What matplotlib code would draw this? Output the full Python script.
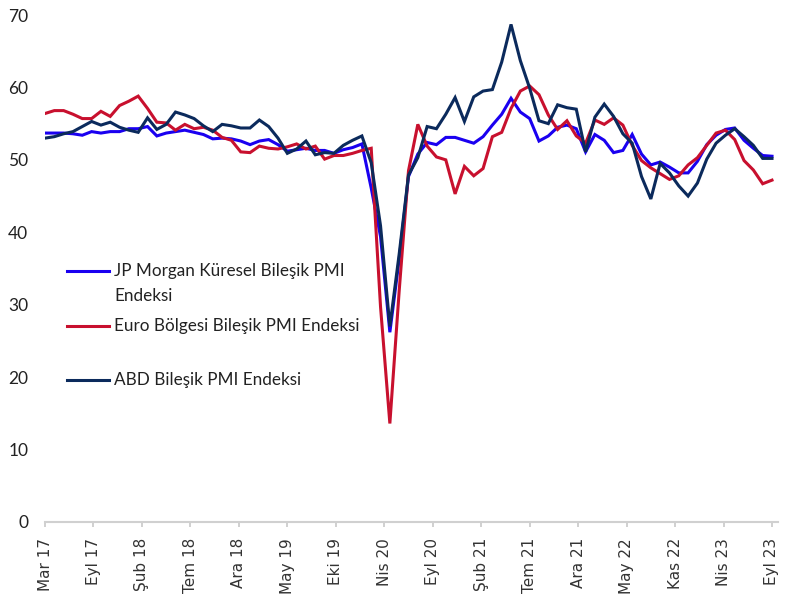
import matplotlib.pyplot as plt
import matplotlib as mpl
from matplotlib.lines import Line2D
import numpy as np

# aylik veri: Mar 17 - Eyl 23
jpm = [53.7, 53.7, 53.7, 53.6, 53.4, 53.9, 53.7, 53.9, 53.9, 54.3,
       54.3, 54.6, 53.3, 53.7, 53.9, 54.1, 53.8, 53.5, 52.9, 53.0,
       52.9, 52.6, 52.1, 52.6, 52.8, 52.1, 51.2, 51.4, 51.6, 51.3,
       51.3, 50.9, 51.4, 51.7, 52.2, 46.1, 39.4, 26.2, 36.3, 47.7,
       50.8, 52.4, 52.1, 53.1, 53.1, 52.7, 52.3, 53.2, 54.8, 56.3,
       58.5, 56.6, 55.7, 52.6, 53.3, 54.5, 54.8, 54.3, 51.1, 53.5,
       52.7, 51.0, 51.3, 53.5, 50.8, 49.3, 49.7, 49.0, 48.2, 48.2,
       49.8, 52.1, 53.4, 54.2, 54.4, 52.7, 51.6, 50.6, 50.5]

euro = [56.4, 56.8, 56.8, 56.3, 55.7, 55.7, 56.7, 56.0, 57.5, 58.1,
        58.8, 57.1, 55.2, 55.1, 54.1, 54.9, 54.3, 54.5, 54.1, 53.1,
        52.7, 51.1, 51.0, 51.9, 51.6, 51.5, 51.8, 52.2, 51.5, 51.9,
        50.1, 50.6, 50.6, 50.9, 51.3, 51.6, 29.7, 13.6, 31.9, 48.5,
        54.9, 51.9, 50.4, 50.0, 45.3, 49.1, 47.8, 48.8, 53.2, 53.8,
        57.1, 59.5, 60.2, 59.0, 56.2, 54.2, 55.4, 53.3, 52.3, 55.5,
        54.9, 55.8, 54.8, 52.0, 49.9, 48.9, 48.1, 47.3, 47.8, 49.3,
        50.3, 52.0, 53.7, 54.1, 52.8, 49.9, 48.6, 46.7, 47.2]

abd = [53.0, 53.2, 53.6, 53.9, 54.6, 55.3, 54.8, 55.2, 54.5, 54.1,
       53.8, 55.8, 54.2, 54.9, 56.6, 56.2, 55.7, 54.7, 53.9, 54.9,
       54.7, 54.4, 54.4, 55.5, 54.6, 53.0, 50.9, 51.5, 52.6, 50.7,
       51.0, 50.9, 52.0, 52.7, 53.3, 49.6, 40.9, 27.0, 37.0, 47.9,
       50.3, 54.6, 54.3, 56.3, 58.6, 55.3, 58.7, 59.5, 59.7, 63.5,
       68.7, 63.7, 59.9, 55.4, 55.0, 57.6, 57.2, 57.0, 51.1, 55.9,
       57.7, 56.0, 53.6, 52.3, 47.7, 44.6, 49.5, 48.2, 46.4, 45.0,
       46.8, 50.1, 52.3, 53.4, 54.3, 53.2, 52.0, 50.2, 50.2]

tick_labels = ['Mar 17', 'Eyl 17', 'Şub 18', 'Tem 18', 'Ara 18', 'May 19',
               'Eki 19', 'Nis 20', 'Eyl 20', 'Şub 21', 'Tem 21', 'Ara 21',
               'May 22', 'Kas 22', 'Nis 23', 'Eyl 23']

names = ['JP Morgan Küresel Bileşik PMI\nEndeksi',
         'Euro Bölgesi Bileşik PMI Endeksi',
         'ABD Bileşik PMI Endeksi']
colors = ['#1A00F0', '#C8102E', '#0B2A5C']

W, H = 801, 612
mpl.rcParams['font.family'] = ['Lato', 'DejaVu Sans']

fig = plt.figure(figsize=(W / 100, H / 100), dpi=100)
ax = fig.add_axes([45 / W, 1 - 522 / H, 733 / W, 507 / H])

t = np.arange(len(jpm))
ax.plot(t, jpm, color=colors[0], lw=2.2, solid_joinstyle='miter')
ax.plot(t, euro, color=colors[1], lw=2.2, solid_joinstyle='miter')
ax.plot(t, abd, color=colors[2], lw=2.2, solid_joinstyle='miter')

ax.set_xlim(0, 78 * 733 / 727)
ax.set_ylim(0, 70)

ax.set_xticks(np.linspace(0, len(jpm) - 1, len(tick_labels)))
ax.set_xticklabels(tick_labels, rotation=90, family='DejaVu Sans',
                   fontsize=11, color='#333333')
ax.set_yticks(np.arange(0, 71, 10))
ax.tick_params(axis='y', length=0, pad=12, labelsize=12.5, labelcolor='#222222')
ax.tick_params(axis='x', length=3.5, width=1.2, color='#C8C8C8', pad=8)

for s in ['top', 'right', 'left']:
    ax.spines[s].set_visible(False)
ax.spines['bottom'].set_color('#D0D0D0')
ax.spines['bottom'].set_linewidth(1.5)

# lejant elle
rows = [271, 326, 380]
for name, c, y in zip(names, colors, rows):
    fy = 1 - y / H
    fig.add_artist(Line2D([67 / W, 109 / W], [fy, fy], color=c, lw=2.2,
                          transform=fig.transFigure))
    fig.text(114 / W, fy + 8 / H, name, va='top', ha='left', fontsize=12.3,
             color='#222222', linespacing=1.7)

plt.savefig('out.png', dpi=100)
